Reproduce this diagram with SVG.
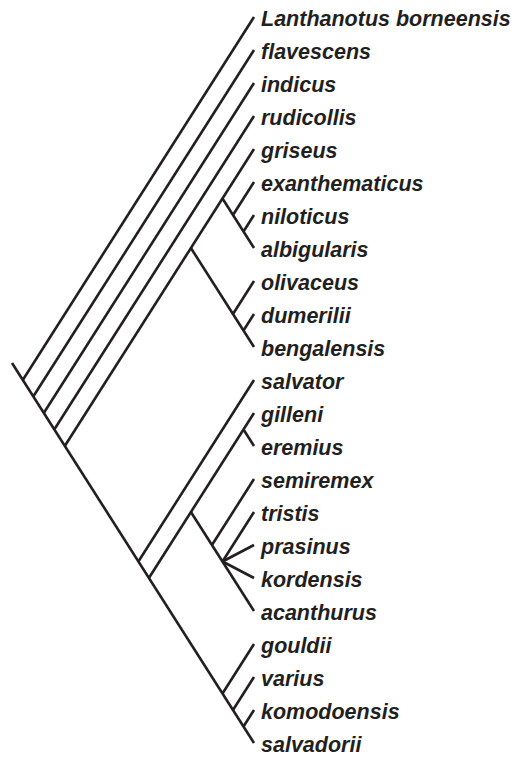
<svg xmlns="http://www.w3.org/2000/svg" width="526" height="758" viewBox="0 0 526 758">
<style>
.e{stroke:#231f20;stroke-width:2.6;fill:none;stroke-linecap:butt}
.t{font-family:"Liberation Sans",Arial,sans-serif;font-size:21.5px;font-weight:bold;font-style:italic;fill:#231f20}
</style>
<rect width="526" height="758" fill="#fff"/>
<g id="connectors">
<line class="e" x1="12" y1="363" x2="254" y2="743"/>
<line class="e" x1="22.8" y1="380" x2="254" y2="17"/>
<line class="e" x1="33.3" y1="396.5" x2="254" y2="50"/>
<line class="e" x1="43.8" y1="413" x2="254" y2="83"/>
<line class="e" x1="54.3" y1="429.5" x2="254" y2="116"/>
<line class="e" x1="64.8" y1="446" x2="254" y2="149"/>
<line class="e" x1="190.9" y1="248" x2="254" y2="347"/>
<line class="e" x1="222.5" y1="198.5" x2="254" y2="248"/>
<line class="e" x1="233" y1="215" x2="254" y2="182"/>
<line class="e" x1="243.5" y1="231.5" x2="254" y2="215"/>
<line class="e" x1="233" y1="314" x2="254" y2="281"/>
<line class="e" x1="243.5" y1="330.5" x2="254" y2="314"/>
<line class="e" x1="138.4" y1="561.5" x2="254" y2="380"/>
<line class="e" x1="148.9" y1="578" x2="254" y2="413"/>
<line class="e" x1="243.5" y1="429.5" x2="254" y2="446"/>
<line class="e" x1="190.9" y1="512" x2="254" y2="611"/>
<line class="e" x1="212" y1="545" x2="254" y2="479"/>
<line class="e" x1="222.5" y1="561.5" x2="254" y2="512"/>
<line class="e" x1="222.5" y1="561.5" x2="254" y2="545"/>
<line class="e" x1="222.5" y1="561.5" x2="254" y2="578"/>
<line class="e" x1="222.5" y1="693.5" x2="254" y2="644"/>
<line class="e" x1="233" y1="710" x2="254" y2="677"/>
<line class="e" x1="243.5" y1="726.5" x2="254" y2="710"/>
</g>
<g id="n0"><text class="t" x="261" y="26">Lanthanotus borneensis</text></g>
<g id="n1"><text class="t" x="261" y="59">flavescens</text></g>
<g id="n2"><text class="t" x="261" y="92">indicus</text></g>
<g id="n3"><text class="t" x="261" y="125">rudicollis</text></g>
<g id="n4"><text class="t" x="261" y="158">griseus</text></g>
<g id="n5"><text class="t" x="261" y="191">exanthematicus</text></g>
<g id="n6"><text class="t" x="261" y="224">niloticus</text></g>
<g id="n7"><text class="t" x="261" y="257">albigularis</text></g>
<g id="n8"><text class="t" x="261" y="290">olivaceus</text></g>
<g id="n9"><text class="t" x="261" y="323">dumerilii</text></g>
<g id="n10"><text class="t" x="261" y="356">bengalensis</text></g>
<g id="n11"><text class="t" x="261" y="389">salvator</text></g>
<g id="n12"><text class="t" x="261" y="422">gilleni</text></g>
<g id="n13"><text class="t" x="261" y="455">eremius</text></g>
<g id="n14"><text class="t" x="261" y="488">semiremex</text></g>
<g id="n15"><text class="t" x="261" y="521">tristis</text></g>
<g id="n16"><text class="t" x="261" y="554">prasinus</text></g>
<g id="n17"><text class="t" x="261" y="587">kordensis</text></g>
<g id="n18"><text class="t" x="261" y="620">acanthurus</text></g>
<g id="n19"><text class="t" x="261" y="653">gouldii</text></g>
<g id="n20"><text class="t" x="261" y="686">varius</text></g>
<g id="n21"><text class="t" x="261" y="719">komodoensis</text></g>
<g id="n22"><text class="t" x="261" y="752">salvadorii</text></g>
</svg>
